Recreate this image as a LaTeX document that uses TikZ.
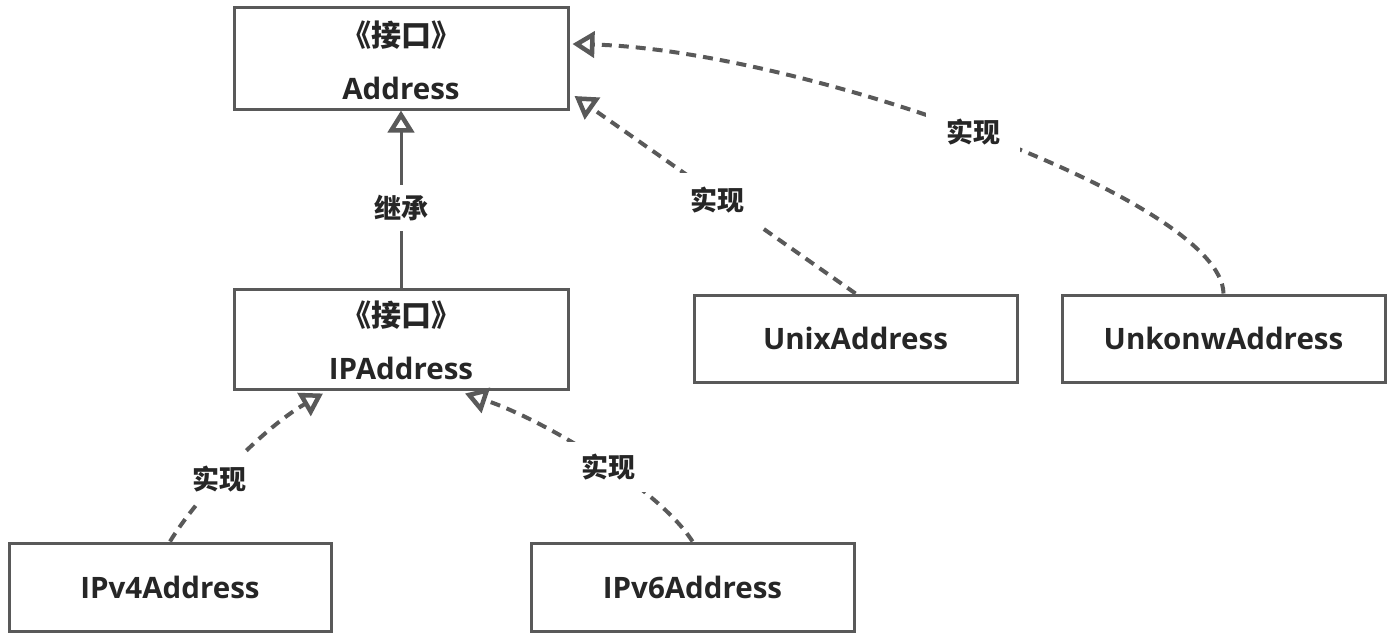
\documentclass[tikz,border=0pt]{standalone}
\usepackage{fontspec}
\setmainfont{Open Sans}
\newfontfamily\cjk{Noto Sans CJK SC}
\usetikzlibrary{arrows.meta,calc}
\definecolor{linec}{HTML}{595959}
\definecolor{textc}{HTML}{262626}
\tikzset{
  box/.style={draw=linec,line width=3pt,fill=white,minimum width=#1,inner sep=0pt,
    text=textc,font=\fontsize{29.5}{53}\selectfont\bfseries,align=center},
  box/.default=323pt,
  txt/.style={text=textc,inner sep=0pt,font=\fontsize{29.5}{35}\selectfont\bfseries},
  stereo/.style={text=textc,inner sep=0pt,font=\fontsize{30}{35}\selectfont\bfseries\cjk},
  umltip/.style={-{Triangle[open,length=22pt,width=26pt,line width=4.5pt]}},
  realize/.style={draw=linec,line width=4pt,dash pattern=on 10pt off 7pt,umltip},
  inherit/.style={draw=linec,line width=3pt,umltip},
  lbl/.style={fill=white,text=textc,font=\fontsize{27}{30}\selectfont\bfseries\cjk,inner sep=12pt}
}
\begin{document}
\begin{tikzpicture}[x=1pt,y=-1pt]
\useasboundingbox (0,0) rectangle (1393,634);
\node[box=334pt,minimum height=101pt] (addr) at (401,58.5) {};
\node[stereo] (addrs) at (401,35) {《接口》};
\node[txt] (addrn) at (401,88) {Address};
\node[box=334pt,minimum height=100pt] (ipaddr) at (401,339) {};
\node[stereo] (ipaddrs) at (401,315) {《接口》};
\node[txt] (ipaddrn) at (401,368) {IPAddress};
\node[box,minimum height=87pt] (unix) at (855.5,338.5) {UnixAddress};
\node[box,minimum height=87pt] (unk) at (1223.5,338.5) {UnkonwAddress};
\node[box=322pt,minimum height=88pt] (ipv4) at (170,587) {IPv4Address};
\node[box,minimum height=88pt] (ipv6) at (692.5,587) {IPv6Address};

\draw[inherit] (ipaddr.north) -- (addr.south);
\draw[realize] (unix.north) -- ([xshift=5pt,yshift=-37.5pt]addr.east);
\draw[realize] (unk.north) .. controls (1222,200) and (800,50) .. ([xshift=3pt,yshift=14.5pt]addr.east);
\draw[realize] (ipv4.north) .. controls (195,500) and (260,430) .. ([xshift=-78pt,yshift=-3pt]ipaddr.south);
\draw[realize] (ipv6.north) .. controls (660,490) and (545,420) .. ([xshift=64pt,yshift=-3pt]ipaddr.south);

\node[lbl,inner sep=10pt] (l1) at (401,208) {继承};
\node[lbl,inner ysep=14pt,inner xsep=16pt] (l2) at (717,200) {实现};
\node[lbl,inner xsep=20pt] (l3) at (973,132) {实现};
\node[lbl] (l4) at (219,479) {实现};
\node[lbl,inner xsep=16pt] (l5) at (608,467) {实现};
\end{tikzpicture}
\end{document}
